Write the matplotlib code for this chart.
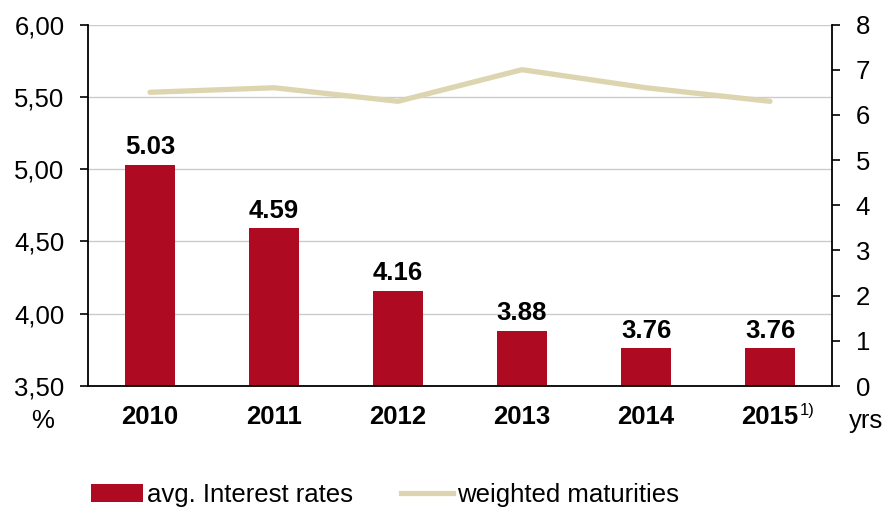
import matplotlib
matplotlib.use("Agg")
import matplotlib.pyplot as plt
from matplotlib.patches import Patch
from matplotlib.lines import Line2D

plt.rcParams['font.family'] = ['Liberation Sans', 'DejaVu Sans']

years = ["2010", "2011", "2012", "2013", "2014", "2015"]
footnotes = ["", "", "", "", "", "1)"]
interest_rates = [5.03, 4.59, 4.16, 3.88, 3.76, 3.76]
maturities = [6.5, 6.6, 6.3, 7.0, 6.6, 6.3]
left_ticks = [3.5, 4.0, 4.5, 5.0, 5.5, 6.0]
left_tick_labels = ["3,50", "4,00", "4,50", "5,00", "5,50", "6,00"]
right_ticks = [0, 1, 2, 3, 4, 5, 6, 7, 8]

bar_color = "#AE0A22"
line_color = "#DDD5B0"
FS = 18.5

fig = plt.figure(figsize=(8.85, 5.11), dpi=100)
ax = fig.add_axes([88 / 885, 1 - 386 / 511, (832 - 88) / 885, (386 - 24.5) / 511])
x = list(range(len(years)))

ax.bar(x, [v - 3.5 for v in interest_rates], bottom=3.5, width=0.41, color=bar_color, zorder=2)
for xi, v in zip(x, interest_rates):
    ax.text(xi, v + 0.04, f"{v:.2f}", ha="center", va="bottom", fontsize=FS, fontweight="bold")

ax.set_ylim(3.5, 6.0)
ax.set_xlim(-0.5, len(years) - 0.5)
ax.set_yticks(left_ticks)
ax.set_yticklabels(left_tick_labels, fontsize=FS)
ax.yaxis.grid(True, color="#C9CDC9", linewidth=1)
ax.set_axisbelow(True)
ax.set_xticks(x)
ax.set_xticklabels([""] * len(years))
ax.tick_params(axis="x", length=0)
ax.tick_params(axis="y", length=6, width=1.2, direction="out", pad=11)
ax.spines["top"].set_visible(False)
ax.spines["right"].set_visible(False)
ax.spines["left"].set_linewidth(1.3)
ax.spines["bottom"].set_linewidth(1.3)

for xi, yr, fn in zip(x, years, footnotes):
    t = ax.text(xi, -0.085, yr, transform=ax.get_xaxis_transform(), ha="center", va="center",
                fontsize=FS, fontweight="bold")
    if fn:
        ax.annotate(fn, xy=(1.0, 0.75), xycoords=t, xytext=(1, 0), textcoords="offset points",
                    ha="left", va="center", fontsize=12)

ax2 = ax.twinx()
ax2.plot(x, maturities, color=line_color, linewidth=3.8, solid_capstyle="round", zorder=3)
ax2.set_ylim(0, 8)
ax2.set_yticks(right_ticks)
ax2.tick_params(axis="y", labelsize=FS, length=6, width=1.2, direction="out", pad=11)
ax2.spines["top"].set_visible(False)
ax2.spines["left"].set_visible(False)
ax2.spines["bottom"].set_visible(False)
ax2.spines["right"].set_linewidth(1.3)

fig.text(43 / 885, 1 - 421 / 511, "%", ha="center", va="center", fontsize=FS)
fig.text(866 / 885, 1 - 421 / 511, "yrs", ha="center", va="center", fontsize=FS)

handles = [Patch(facecolor=bar_color, edgecolor="none"),
           Line2D([0], [0], color=line_color, linewidth=3.8)]
fig.legend(handles, ["avg. Interest rates", "weighted maturities"], loc="center",
           bbox_to_anchor=(385 / 885, 1 - 495 / 511), ncol=2, frameon=False, fontsize=FS,
           handlelength=2.0, handletextpad=0.15, columnspacing=1.9)

fig.savefig("out.png", dpi=100)
